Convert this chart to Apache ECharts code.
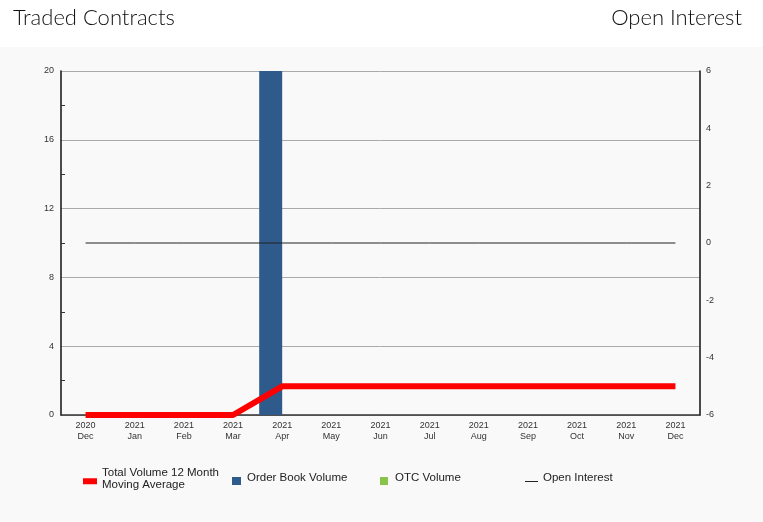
<!DOCTYPE html>
<html>
<head>
<meta charset="utf-8">
<style>
html,body{margin:0;padding:0;background:#fff;}
#chart{width:763px;height:522px;}
</style>
<script src="https://cdn.jsdelivr.net/npm/echarts@6/dist/echarts.min.js"></script>
</head>
<body>
<div id="chart"></div>
<script>
const categories = ['2020\nDec','2021\nJan','2021\nFeb','2021\nMar','2021\nApr','2021\nMay','2021\nJun','2021\nJul','2021\nAug','2021\nSep','2021\nOct','2021\nNov','2021\nDec'];
const movingAverage = [0,0,0,0,1.667,1.667,1.667,1.667,1.667,1.667,1.667,1.667,1.667];
const orderBookVolume = [0,0,0,0,20,0,0,0,0,0,0,0,0];
const otcVolume = [0,0,0,0,0,0,0,0,0,0,0,0,0];
const openInterest = [0,0,0,0,0,0,0,0,0,0,0,0,0];

const FONT = 'Liberation Sans, Arial, sans-serif';
const TITLE_FONT = 'Lato, Roboto, sans-serif';
const chart = echarts.init(document.getElementById('chart'));
function legendItem(left, top, name, icon, color, w, h) {
  return {
    left: left, top: top, orient: 'horizontal', selectedMode: false,
    itemWidth: w, itemHeight: h, padding: 0,
    icon: icon,
    data: [{name: name, icon: icon, itemStyle: {color: color, borderWidth: 0}}],
    textStyle: {fontFamily: FONT, fontSize: 11.5, color: '#222', lineHeight: 11.5}
  };
}
const DOT = 'M0,0L0.01,0L0.01,0.01Z ';
chart.setOption({
  animation: false,
  backgroundColor: '#fff',
  graphic: [{
    type: 'rect', z: -10, silent: true,
    shape: {x: 0, y: 47, width: 763, height: 475},
    style: {fill: '#f9f9f9'}
  }],
  title: [
    {text: 'Traded Contracts', left: 13, top: 7, padding: 0,
     textStyle: {fontFamily: TITLE_FONT, fontSize: 22, fontWeight: 300, color: '#111'}},
    {text: 'Open Interest', right: 21, top: 7, padding: 0,
     textStyle: {fontFamily: TITLE_FONT, fontSize: 22, fontWeight: 300, color: '#111'}}
  ],
  legend: [
    legendItem(83, 467, 'Total Volume 12 Month\nMoving Average',
      'path://' + DOT + 'M0,5L14,5L14,11L0,11Z', '#ff0000', 14, 11),
    legendItem(232, 471, 'Order Book Volume',
      'path://' + DOT + 'M10,0L10.01,0L10.01,0.01Z M0,6L9,6L9,14L0,14Z', '#2f5b8c', 10, 14),
    legendItem(380, 471, 'OTC Volume',
      'path://' + DOT + 'M10,0L10.01,0L10.01,0.01Z M0,6L8,6L8,14L0,14Z', '#8bc34a', 10, 14),
    legendItem(525, 471, 'Open Interest',
      'path://' + DOT + 'M0,14L0.01,14L0.01,13.99Z M0,10L13,10L13,11L0,11Z', '#222', 13, 14)
  ],
  grid: {left: 61, right: 63, top: 71, bottom: 107, containLabel: false},
  xAxis: {
    type: 'category', data: categories, boundaryGap: true,
    axisLine: {show: true, lineStyle: {color: '#333', width: 1.5}},
    axisTick: {show: false},
    axisLabel: {fontFamily: FONT, fontSize: 9, color: '#333', lineHeight: 11, margin: 5, interval: 0}
  },
  yAxis: [{
    type: 'value', min: 0, max: 20, interval: 4, position: 'left',
    axisLine: {show: true, lineStyle: {color: '#111', width: 1.5}},
    axisTick: {show: false, inside: true},
    minorTick: {show: true, splitNumber: 2, length: 4, lineStyle: {color: '#333'}},
    axisLabel: {fontFamily: FONT, fontSize: 9, color: '#333', margin: 7},
    splitLine: {show: true, lineStyle: {color: '#aaa', width: 1}}
  }, {
    type: 'value', min: -6, max: 6, interval: 2, position: 'right',
    axisLine: {show: true, lineStyle: {color: '#111', width: 1.5}},
    axisTick: {show: false},
    axisLabel: {fontFamily: FONT, fontSize: 9, color: '#333', margin: 6},
    splitLine: {show: false}
  }],
  series: [
    {name: 'Order Book Volume', type: 'bar', data: orderBookVolume, barWidth: 23, barGap: '0%',
     itemStyle: {color: '#2f5b8c'}},
    {name: 'OTC Volume', type: 'bar', data: otcVolume, barWidth: 23, barGap: '0%',
     itemStyle: {color: '#8bc34a'}},
    {name: 'Open Interest', type: 'line', yAxisIndex: 1, data: openInterest, symbol: 'none',
     lineStyle: {color: '#222', width: 1}, itemStyle: {color: '#222'}},
    {name: 'Total Volume 12 Month\nMoving Average', type: 'line', data: movingAverage, symbol: 'none',
     lineStyle: {color: '#ff0000', width: 6}, itemStyle: {color: '#ff0000'}}
  ]
});
</script>
</body>
</html>
